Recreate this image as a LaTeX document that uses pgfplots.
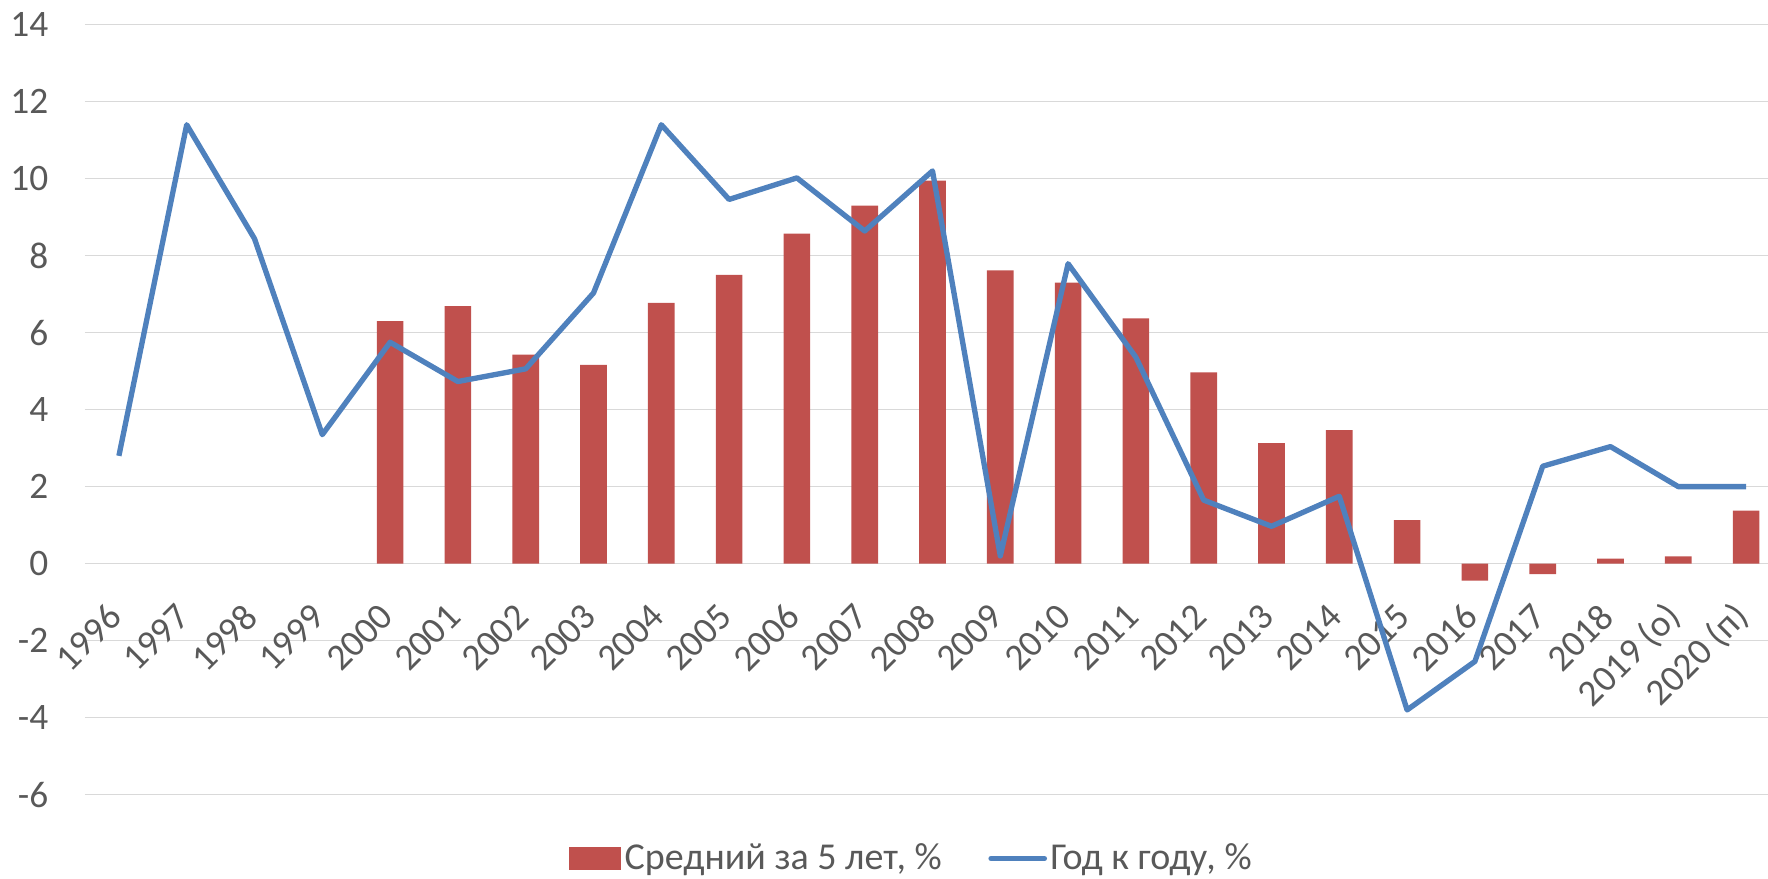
\documentclass[border=0pt]{standalone}
\usepackage{fontspec}
\setmainfont{Carlito}
\usepackage{pgfplots}
\pgfplotsset{compat=1.18}
\definecolor{barred}{HTML}{C0504D}
\definecolor{lineblue}{HTML}{4F81BD}
\definecolor{txtgray}{HTML}{595959}
\definecolor{gridgray}{HTML}{D9D9D9}

\begin{document}
\begin{tikzpicture}
\begin{axis}[
  name=ax,
  scale only axis,
  width=508.5pt, height=231pt,
  xmin=-0.5, xmax=24.5,
  ymin=-6, ymax=14,
  ytick={-6,-4,...,14},
  xtick={0,...,24},
  xticklabels={1996,1997,1998,1999,2000,2001,2002,2003,2004,2005,2006,2007,2008,2009,2010,2011,2012,2013,2014,2015,2016,2017,2018,2019 (о),2020 (п)},
  axis line style={draw=none},
  major tick length=0pt,
  ymajorgrids, grid style={gridgray, line width=0.45pt},
  tick label style={text=txtgray, font=\fontsize{11.2}{13}\selectfont},
  /pgf/number format/assume math mode=true,
  yticklabel style={inner sep=0pt, anchor=east, xshift=-10.8pt},
  xticklabel style={inner sep=0pt, xshift=-1pt, yshift=55.3pt, rotate=45, anchor=east},
  legend style={at={(0.488,-0.083)}, anchor=center, draw=none, fill=none,
    legend columns=2, text=txtgray, font=\fontsize{11.4}{13}\selectfont,
    inner sep=0pt, nodes={inner xsep=1pt, inner ysep=1pt},
    /tikz/every even column/.append style={column sep=13pt}},
  legend cell align=left,
]
\addplot[ybar, bar width=8pt, fill=barred, draw=none,
  legend image code/.code={\fill[barred] (0pt,-3.4pt) rectangle (15.6pt,3.4pt);}]
coordinates {
(4,6.30) (5,6.69) (6,5.43) (7,5.16) (8,6.77) (9,7.50) (10,8.57) (11,9.30)
(12,9.95) (13,7.62) (14,7.30) (15,6.37) (16,4.97) (17,3.13) (18,3.47)
(19,1.13) (20,-0.44) (21,-0.27) (22,0.13) (23,0.19) (24,1.38)
};
\addlegendentry{Средний за 5 лет, \%}
\addplot[lineblue, line width=1.6pt, line join=round, mark=none,
  legend image code/.code={\draw[lineblue, line width=1.6pt, line cap=round] (0pt,0pt) -- (16pt,0pt);}]
coordinates {
(0,2.8) (1,11.4) (2,8.44) (3,3.35) (4,5.75) (5,4.73) (6,5.06) (7,7.03)
(8,11.4) (9,9.46) (10,10.02) (11,8.64) (12,10.2) (13,0.2) (14,7.79)
(15,5.36) (16,1.65) (17,0.97) (18,1.75) (19,-3.8) (20,-2.54) (21,2.53)
(22,3.04) (23,2.0) (24,2.0)
};
\addlegendentry{Год к году, \%}
\end{axis}
\pgfresetboundingbox
\path[use as bounding box] ([xshift=-25.5pt,yshift=-25.2pt]ax.south west)
  rectangle ([xshift=504.9pt,yshift=7.4pt]ax.north west);
\end{tikzpicture}
\end{document}
